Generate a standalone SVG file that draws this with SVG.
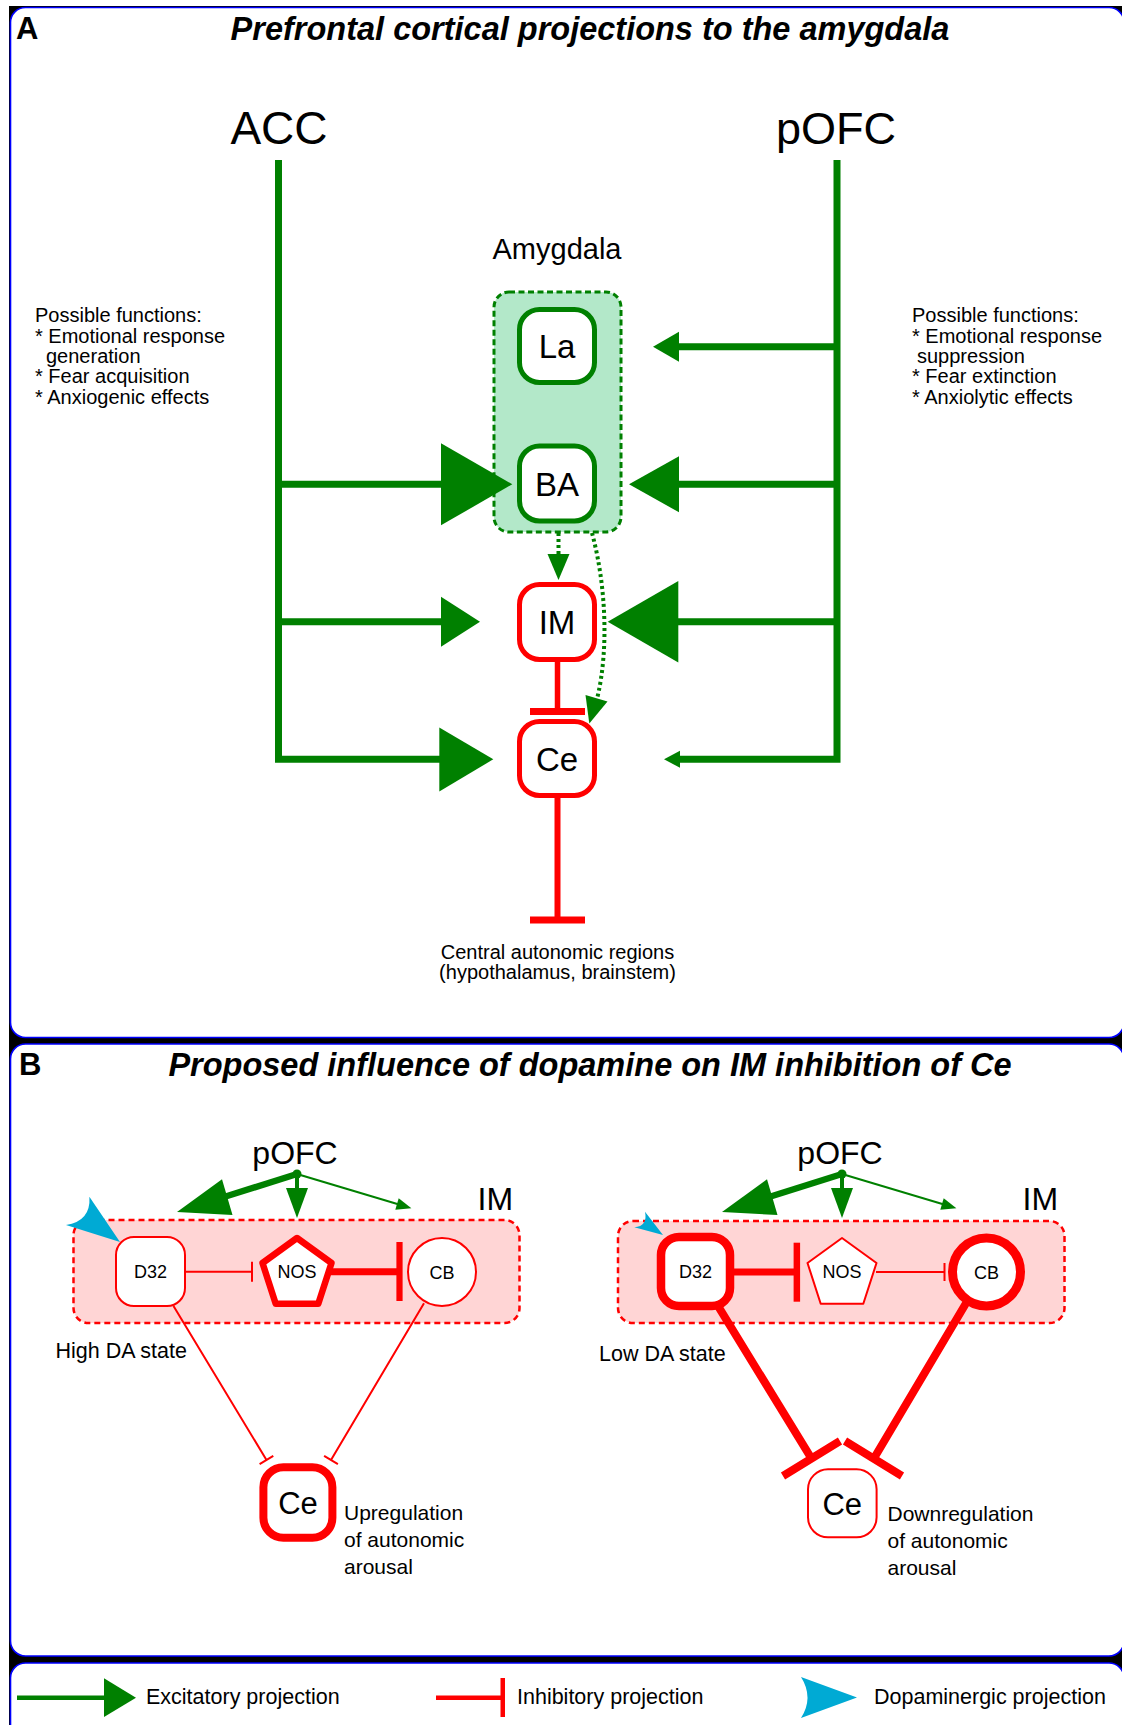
<svg xmlns="http://www.w3.org/2000/svg" width="1122" height="1725" viewBox="0 0 1122 1725">
<style>
text{font-family:"Liberation Sans",Arial,sans-serif;fill:#000}
.title{font-size:32.5px;font-weight:bold;font-style:italic}
.lab{font-size:31px;font-weight:bold}
.big{font-size:46px}
.fn{font-size:20px}
.nodeT{font-size:33px}
.small{font-size:18px}
.leg{font-size:21.5px}
.panel{fill:#fff;stroke:#0000ff;stroke-width:1.6}
.g{stroke:#008000;fill:none;stroke-linecap:butt}
.gf{fill:#008000;stroke:none}
.r{stroke:#ff0000;fill:none}
.rf{fill:#ff0000;stroke:none}
.gnode{fill:#fff;stroke:#008000;stroke-width:5}
.rnode{fill:#fff;stroke:#ff0000}
.da{fill:#00aad4;stroke:none}
.desc{font-size:21px}
</style>
<rect x="9" y="6" width="1113" height="1719" fill="#000"/>
<rect class="panel" x="10.5" y="7.5" width="1113.5" height="1030" rx="15"/>
<rect class="panel" x="10.5" y="1044" width="1113.5" height="612" rx="15"/>
<rect class="panel" x="10.5" y="1663" width="1113.5" height="90" rx="15"/>

<g id="panelA-labels">
<text class="lab" x="16" y="39">A</text>
<text class="title" x="590" y="40" text-anchor="middle">Prefrontal cortical projections to the amygdala</text>
<text class="fn" x="35" y="322">Possible functions:</text>
<text class="fn" x="35" y="342.5">* Emotional response</text>
<text class="fn" x="46" y="363">generation</text>
<text class="fn" x="35" y="383">* Fear acquisition</text>
<text class="fn" x="35" y="403.5">* Anxiogenic effects</text>
<text class="fn" x="912" y="322">Possible functions:</text>
<text class="fn" x="912" y="342.5">* Emotional response</text>
<text class="fn" x="917" y="363">suppression</text>
<text class="fn" x="912" y="383">* Fear extinction</text>
<text class="fn" x="912" y="403.5">* Anxiolytic effects</text>
<text class="fn" x="557.5" y="958.5" text-anchor="middle">Central autonomic regions</text>
<text class="fn" x="557.5" y="979" text-anchor="middle">(hypothalamus, brainstem)</text>
</g>

<g id="ACC"><text class="big" x="279" y="144" text-anchor="middle">ACC</text></g>
<g id="pOFC-A"><text class="big" x="836" y="144" text-anchor="middle" style="font-size:45px">pOFC</text></g>

<g id="amygdala">
<rect x="494" y="292" width="127" height="240" rx="15" fill="#b3e8c9" stroke="#008000" stroke-width="3" stroke-dasharray="6 3.5"/>
<text x="557" y="259" text-anchor="middle" style="font-size:29px">Amygdala</text>
</g>
<g id="La"><rect class="gnode" x="519.5" y="309.5" width="75" height="73" rx="20"/><text class="nodeT" x="557" y="358" text-anchor="middle">La</text></g>
<g id="BA"><rect class="gnode" x="519.5" y="446" width="75" height="75" rx="20"/><text class="nodeT" x="557" y="495.5" text-anchor="middle">BA</text></g>
<g id="IM-A"><rect class="rnode" stroke-width="5" x="519.5" y="584.5" width="75" height="75" rx="20"/><text class="nodeT" x="557" y="634" text-anchor="middle">IM</text></g>
<g id="Ce-A"><rect class="rnode" stroke-width="5" x="519.5" y="721.5" width="75" height="74" rx="20"/><text class="nodeT" x="557" y="770.5" text-anchor="middle">Ce</text></g>

<g id="connectorsA">
<path class="g" stroke-width="7" d="M278.5,160 V759.3 H442" stroke-linejoin="miter"/>
<path class="g" stroke-width="7" d="M278.5,484.3 H444 M278.5,621.7 H444"/>
<polygon class="gf" points="441,443.3 512.3,484.3 441,525.3"/>
<polygon class="gf" points="441,596.7 480,621.7 441,646.7"/>
<polygon class="gf" points="439.3,727.5 493.3,759.3 439.3,791.5"/>
<path class="g" stroke-width="7" d="M837,160 V759.3 H676"/>
<path class="g" stroke-width="7" d="M837,346.7 H676 M837,484.3 H676 M837,621.7 H676"/>
<polygon class="gf" points="679,331.7 653,346.7 679,361.7"/>
<polygon class="gf" points="679,456.3 629,484.3 679,512.3"/>
<polygon class="gf" points="678.3,581 607.7,621.7 678.3,662.5"/>
<polygon class="gf" points="680,750.8 664,759.3 680,767.8"/>
<path class="g" stroke-width="4" stroke-dasharray="3 3" d="M558.5,533 V556"/>
<polygon class="gf" points="547.5,554 569.5,554 558.5,580"/>
<path class="g" stroke-width="4" stroke-dasharray="3 3" d="M592,533 C606,585 609,650 597,699"/>
<polygon class="gf" points="585.5,695 607.5,701.5 589.3,723.5"/>
<path class="r" stroke-width="5.5" d="M557.5,662 V710"/>
<rect class="rf" x="530" y="708" width="55" height="7"/>
<path class="r" stroke-width="6" d="M557.5,798 V918"/>
<rect class="rf" x="530" y="916.5" width="55" height="7"/>
</g>

<g id="panelB-labels">
<text class="lab" x="19" y="1075">B</text>
<text class="title" x="590" y="1076" text-anchor="middle">Proposed influence of dopamine on IM inhibition of Ce</text>
<text x="55.5" y="1358" style="font-size:21.5px">High DA state</text>
<text x="599" y="1361" style="font-size:21.5px">Low DA state</text>
<text class="desc" x="344" y="1520">Upregulation</text>
<text class="desc" x="344" y="1547">of autonomic</text>
<text class="desc" x="344" y="1574">arousal</text>
<text class="desc" x="887.5" y="1520.5">Downregulation</text>
<text class="desc" x="887.5" y="1547.5">of autonomic</text>
<text class="desc" x="887.5" y="1574.5">arousal</text>
</g>

<g id="IMbox-left">
<rect x="73.5" y="1220" width="446" height="103" rx="15" fill="#ffd5d5" stroke="#ff0000" stroke-width="2.5" stroke-dasharray="6 4"/>
<text x="477.5" y="1210" style="font-size:32px">IM</text>
</g>
<g id="IMbox-right">
<rect x="618" y="1221" width="446.5" height="102" rx="15" fill="#ffd5d5" stroke="#ff0000" stroke-width="2.5" stroke-dasharray="6 4"/>
<text x="1022.5" y="1210" style="font-size:32px">IM</text>
</g>
<g id="pOFC-left"><text x="295" y="1164" text-anchor="middle" style="font-size:32px">pOFC</text></g>
<g id="pOFC-right"><text x="840" y="1164" text-anchor="middle" style="font-size:32px">pOFC</text></g>

<g id="D32-left"><rect class="rnode" stroke-width="2" x="116" y="1237" width="69" height="69" rx="18"/><text class="small" x="150.5" y="1278" text-anchor="middle">D32</text></g>
<g id="NOS-left"><polygon class="rnode" stroke-width="6.5" stroke-linejoin="round" points="297,1238 331.5,1263 318.3,1303.7 275.7,1303.7 262.5,1263"/><text class="small" x="297" y="1278" text-anchor="middle">NOS</text></g>
<g id="CB-left"><circle class="rnode" stroke-width="2" cx="442" cy="1272" r="34"/><text class="small" x="442" y="1278.5" text-anchor="middle">CB</text></g>
<g id="Ce-left"><rect class="rnode" stroke-width="8" x="263.4" y="1467.3" width="69" height="70.4" rx="20"/><text x="298" y="1513.5" text-anchor="middle" style="font-size:31px">Ce</text></g>

<g id="D32-right"><rect class="rnode" stroke-width="8.5" x="661" y="1237" width="69" height="69" rx="18"/><text class="small" x="695.5" y="1278" text-anchor="middle">D32</text></g>
<g id="NOS-right"><polygon class="rnode" stroke-width="2" stroke-linejoin="round" points="842,1238 876.5,1263 863.3,1303.7 820.7,1303.7 807.5,1263"/><text class="small" x="842" y="1278" text-anchor="middle">NOS</text></g>
<g id="CB-right"><circle class="rnode" stroke-width="9" cx="986.5" cy="1272" r="34"/><text class="small" x="986.5" y="1278.5" text-anchor="middle">CB</text></g>
<g id="Ce-right"><rect class="rnode" stroke-width="2" x="808" y="1469.3" width="68.6" height="68" rx="20"/><text x="842.3" y="1514.5" text-anchor="middle" style="font-size:31px">Ce</text></g>

<g id="connectorsB">
<circle class="gf" cx="297" cy="1174" r="4.5"/>
<path class="g" stroke-width="6.5" d="M297,1174 L224,1197"/>
<polygon class="gf" points="177,1212 222,1179.3 232.5,1215"/>
<path class="g" stroke-width="4" d="M297,1174 V1192"/>
<polygon class="gf" points="286,1188 308,1188 297,1218"/>
<path class="g" stroke-width="2" d="M297,1174 L399,1204.5"/>
<polygon class="gf" points="411.4,1208.3 395.3,1209.7 398.7,1198.3"/>
<path class="da" d="M120,1242 L89.4,1196.7 Q91,1221 66,1225 Z"/>

<path class="r" stroke-width="2" d="M185,1271.7 H252 M252,1261.7 V1281.7"/>
<path class="r" stroke-width="7" d="M331,1271.7 H398"/>
<rect class="rf" x="396.4" y="1242" width="6.2" height="59"/>
<path class="r" stroke-width="2" d="M173.5,1306 L266.5,1460 M259.6,1464.1 L273.3,1455.9"/>
<path class="r" stroke-width="2" d="M424,1303.3 L331,1460 M324.1,1455.9 L337.9,1464.1"/>

<circle class="gf" cx="842" cy="1174" r="4.5"/>
<path class="g" stroke-width="6.5" d="M842,1174 L769,1197"/>
<polygon class="gf" points="722,1212 767,1179.3 777.5,1215"/>
<path class="g" stroke-width="4" d="M842,1174 V1192"/>
<polygon class="gf" points="831,1188 853,1188 842,1218"/>
<path class="g" stroke-width="2" d="M842,1174 L944,1204.5"/>
<polygon class="gf" points="956.4,1208.3 940.3,1209.7 943.7,1198.3"/>
<path class="da" d="M663,1235 L645,1211.7 Q648,1226 634.3,1227.3 Z"/>

<path class="r" stroke-width="7" d="M730,1272 H795"/>
<rect class="rf" x="793.6" y="1242.7" width="6.5" height="59"/>
<path class="r" stroke-width="2" d="M876,1272 H944.5 M944.5,1263 V1281"/>
<path class="r" stroke-width="8" d="M718.4,1306.7 L811.4,1458.3 M783,1476 L840,1441"/>
<path class="r" stroke-width="8" d="M966,1303.3 L874,1458.3 M845,1441 L902,1476"/>
</g>

<g id="legend">
<path class="g" stroke-width="4.5" d="M17,1697.7 H106"/>
<polygon class="gf" points="104,1678.3 136,1697.7 104,1717"/>
<text class="leg" x="146" y="1703.5">Excitatory projection</text>
<path class="r" stroke-width="4.5" d="M436,1697.7 H502"/>
<rect class="rf" x="500.5" y="1678" width="4.5" height="39"/>
<text class="leg" x="517" y="1703.5">Inhibitory projection</text>
<path class="da" d="M857,1697.5 L801,1677 Q814,1697.5 801,1718 Z"/>
<text class="leg" x="874" y="1703.5">Dopaminergic projection</text>
</g>
</svg>
